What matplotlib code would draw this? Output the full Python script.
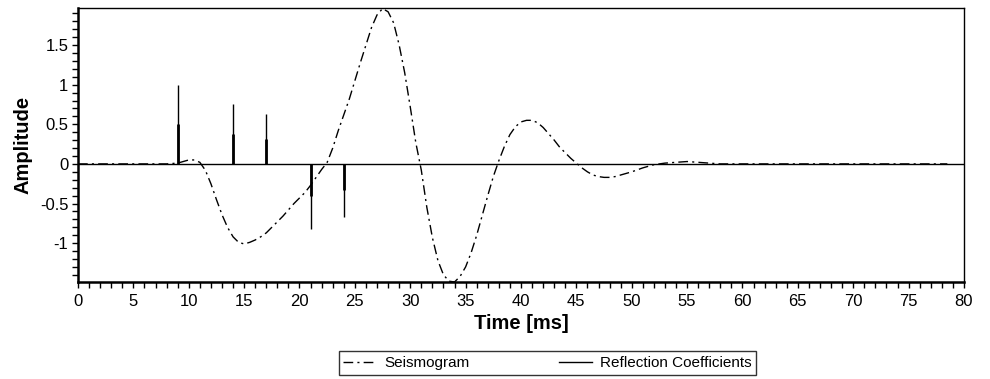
import matplotlib
matplotlib.use("Agg")
import matplotlib.pyplot as plt
from matplotlib.ticker import MultipleLocator

plt.rcParams['font.family'] = ['Liberation Sans', 'DejaVu Sans']

# seismogram trace (time in ms, amplitude)
time_ms = [0, 2, 4, 6, 8, 9, 9.5, 10, 10.5, 11, 11.5, 12, 12.5, 13, 13.5, 14, 14.5,
           15, 15.5, 16, 16.5, 17, 17.5, 18, 18.5, 19, 19.5, 20, 20.5, 21, 21.5, 22,
           22.5, 23, 23.5, 24, 24.5, 25, 25.5, 26, 26.5, 27, 27.5, 28, 28.5, 29, 29.5,
           30, 30.5, 31, 31.5, 32, 32.5, 33, 33.5, 34, 34.5, 35, 35.5, 36, 36.5, 37,
           37.5, 38, 38.5, 39, 39.5, 40, 40.5, 41, 41.5, 42, 42.5, 43, 43.5, 44, 44.5,
           45, 45.5, 46, 46.5, 47, 47.5, 48, 48.5, 49, 49.5, 50, 51, 52, 53, 54, 55,
           56, 57, 58, 60, 65, 70, 75, 78.5]
seismogram = [0, 0, 0, 0, 0, 0.01, 0.03, 0.05, 0.05, 0.02, -0.08, -0.25, -0.45, -0.64,
              -0.8, -0.92, -0.99, -1.01, -0.99, -0.96, -0.92, -0.87, -0.8, -0.73, -0.66,
              -0.58, -0.5, -0.43, -0.36, -0.27, -0.17, -0.07, 0.02, 0.2, 0.42, 0.62, 0.82,
              1.05, 1.28, 1.5, 1.72, 1.88, 1.96, 1.92, 1.78, 1.5, 1.15, 0.72, 0.27, -0.08,
              -0.55, -0.93, -1.22, -1.4, -1.48, -1.49, -1.42, -1.3, -1.12, -0.9, -0.65,
              -0.4, -0.16, 0.04, 0.22, 0.37, 0.47, 0.53, 0.55, 0.55, 0.52, 0.46, 0.38,
              0.3, 0.21, 0.14, 0.07, 0.01, -0.05, -0.1, -0.14, -0.16, -0.17, -0.17, -0.16,
              -0.14, -0.12, -0.1, -0.05, -0.01, 0.01, 0.02, 0.03, 0.02, 0.01, 0.0, 0, 0,
              0, 0, 0]

# reflection coefficients (spikes)
refl_time = [9, 14, 17, 21, 24]
refl_coef = [1.0, 0.75, 0.63, -0.82, -0.67]

ytick_vals = [-1, -0.5, 0, 0.5, 1, 1.5]
ytick_labels = ['-1', '-0.5', '0', '0.5', '1', '1.5']

fig = plt.figure(figsize=(9.9, 3.79), dpi=100)
ax = fig.add_axes([0.0788, 0.256, 0.8949, 0.7234])

ax.axhline(0, color='black', lw=1.0, zorder=1)
sline, = ax.plot(time_ms, seismogram, color='black', lw=1.0,
                 linestyle=(0, (7, 3, 1.5, 3)), label='Seismogram', zorder=3)
ax.vlines(refl_time, 0, refl_coef, color='black', lw=1.0, zorder=2)
ax.vlines(refl_time, 0, [c / 2 for c in refl_coef], color='black', lw=2.0, zorder=2)
rline, = ax.plot([], [], color='black', lw=1.0, label='Reflection Coefficients')

ax.set_xlim(0, 80)
ax.set_ylim(-1.49, 1.97)
ax.xaxis.set_major_locator(MultipleLocator(5))
ax.xaxis.set_minor_locator(MultipleLocator(1))
ax.set_yticks(ytick_vals)
ax.set_yticklabels(ytick_labels)
ax.yaxis.set_minor_locator(MultipleLocator(0.1))
ax.tick_params(which='both', direction='out', length=4, width=1, colors='black',
               labelsize=12)
ax.tick_params(axis='x', pad=5)
ax.tick_params(axis='y', pad=3)

for side in ['left', 'bottom']:
    ax.spines[side].set_linewidth(1.8)
for side in ['top', 'right']:
    ax.spines[side].set_linewidth(1.0)

ax.set_xlabel('Time [ms]', fontsize=14.5, fontweight='bold', labelpad=3)
ax.set_ylabel('Amplitude', fontsize=14.5, fontweight='bold', labelpad=5)

leg = fig.legend(handles=[sline, rline], loc='center', ncol=2,
                 bbox_to_anchor=(0.553, 0.042), frameon=True, fancybox=False,
                 edgecolor='black', fontsize=11, handlelength=2.2,
                 columnspacing=5.8, borderpad=0.3, handletextpad=0.5)
leg.get_frame().set_linewidth(1.0)

fig.savefig('out.png', dpi=100)
